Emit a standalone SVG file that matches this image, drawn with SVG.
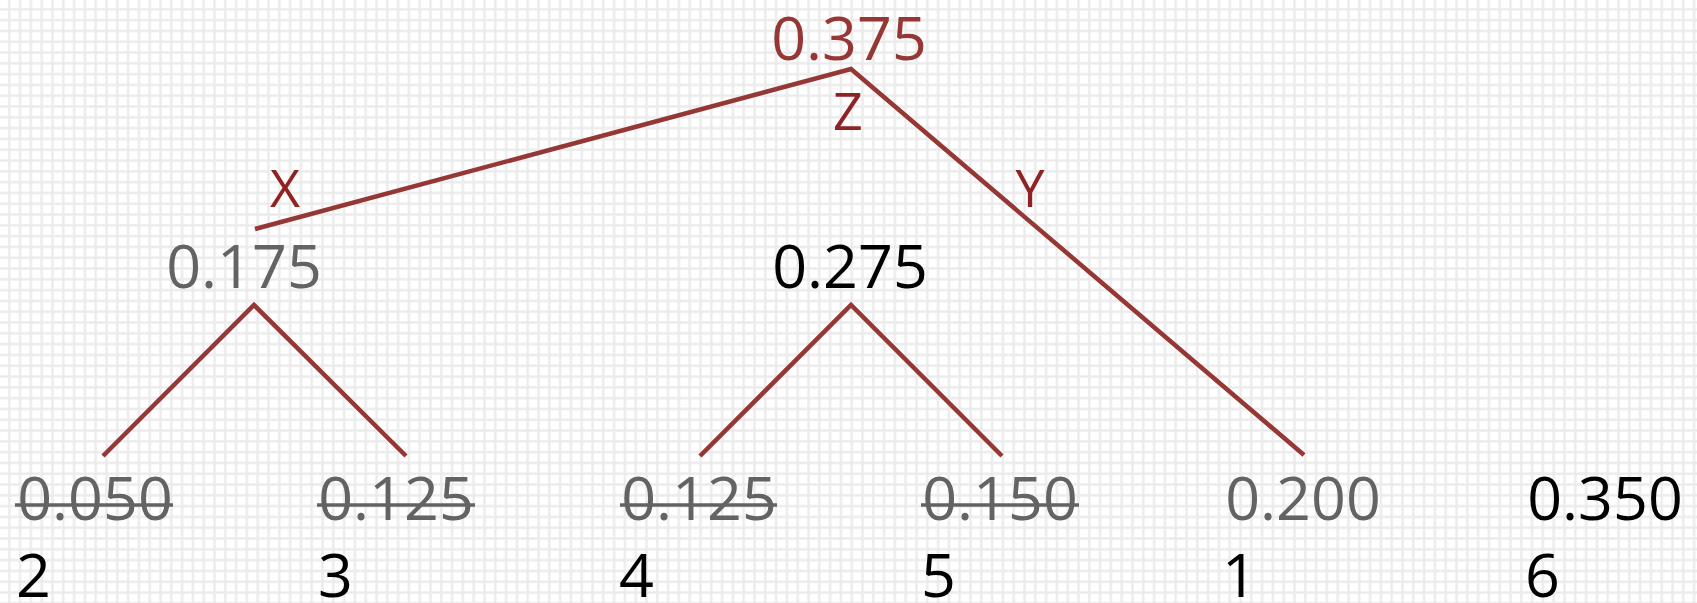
<svg xmlns="http://www.w3.org/2000/svg" width="1697" height="603" viewBox="0 0 1697 603">
<style>
.v{font-family:"Open Sans","Noto Sans",sans-serif;font-size:61px;}
.lbl{font-family:"Open Sans","Noto Sans",sans-serif;font-size:52px;fill:#8f2222;}
.gray{fill:#636363;}
.blk{fill:#000000;}
.red{fill:#953735;}
.edge{stroke:#953735;stroke-width:4.5;fill:none;stroke-linecap:butt;}
.strike{stroke:#636363;stroke-width:3.5;}
</style>
<defs>
<pattern id="grid" x="0" y="0" width="10.8" height="10.8" patternUnits="userSpaceOnUse">
<rect width="10.8" height="10.8" fill="#ffffff"/>
<path d="M9.3 0V10.8M0 9.3H10.8" stroke="#ebebeb" stroke-width="2.4"/>
</pattern>
</defs>
<rect width="1697" height="603" fill="url(#grid)"/>
<g id="connectors">
<polyline class="edge" points="255,229 851,69 1304,455"/>
<polyline class="edge" points="103,456 254,305 406,456"/>
<polyline class="edge" points="700,456 851,305 1002,456"/>
</g>
<g id="node-root">
<text class="v red" x="849" y="60" text-anchor="middle">0.375</text>
<text class="lbl" x="848" y="130" text-anchor="middle">Z</text>
</g>
<g id="label-x"><text class="lbl" x="285" y="207" text-anchor="middle">X</text></g>
<g id="label-y"><text class="lbl" x="1030" y="207" text-anchor="middle">Y</text></g>
<g id="node-0175"><text class="v gray" x="244" y="288" text-anchor="middle">0.175</text></g>
<g id="node-0275"><text class="v blk" x="850" y="288" text-anchor="middle">0.275</text></g>
<g id="leaf-2">
<text class="v gray" x="95" y="520" text-anchor="middle">0.050</text>
<line class="strike" x1="15" y1="505" x2="173" y2="505"/>
<text class="v blk" x="16" y="597">2</text>
</g>
<g id="leaf-3">
<text class="v gray" x="396" y="520" text-anchor="middle">0.125</text>
<line class="strike" x1="317" y1="505" x2="475" y2="505"/>
<text class="v blk" x="318" y="597">3</text>
</g>
<g id="leaf-4">
<text class="v gray" x="699" y="520" text-anchor="middle">0.125</text>
<line class="strike" x1="620" y1="505" x2="777" y2="505"/>
<text class="v blk" x="619" y="597">4</text>
</g>
<g id="leaf-5">
<text class="v gray" x="1000" y="520" text-anchor="middle">0.150</text>
<line class="strike" x1="921" y1="505" x2="1079" y2="505"/>
<text class="v blk" x="921" y="597">5</text>
</g>
<g id="leaf-1">
<text class="v gray" x="1303" y="520" text-anchor="middle">0.200</text>
<text class="v blk" x="1222" y="597">1</text>
</g>
<g id="leaf-6">
<text class="v blk" x="1605" y="520" text-anchor="middle">0.350</text>
<text class="v blk" x="1525" y="597">6</text>
</g>
</svg>
